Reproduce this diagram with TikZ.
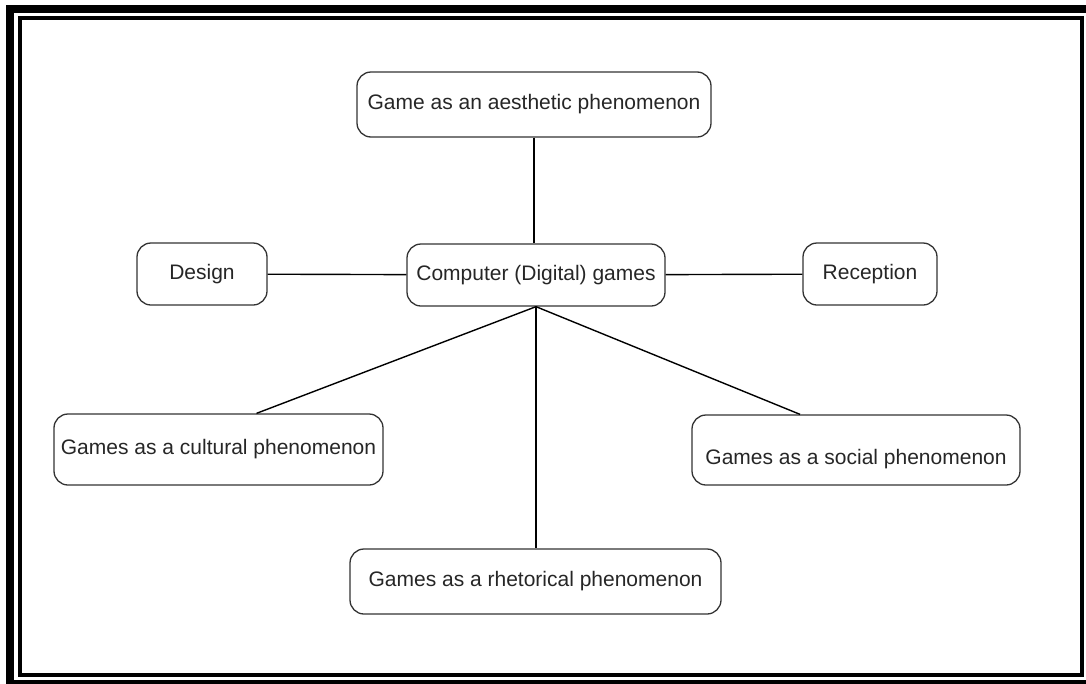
\documentclass[tikz,border=0pt]{standalone}
\usepackage{fontspec}
\setmainfont{Liberation Sans}
\colorlet{boxLine}{black!80}
\colorlet{boxText}{black!85}

\begin{document}
\begin{tikzpicture}[x=1pt, y=-1pt,
	topic/.style={draw=boxLine, line width=1.3pt, rounded corners=14pt, text=boxText,
		font=\fontsize{21}{25}\selectfont, inner sep=0pt, minimum height=63pt},
	link/.style={draw=black, line width=1.4pt}]
		\useasboundingbox (0, 0) rectangle (1086, 683);
		%%%%%%%%%%%%%
		\draw [line width=8pt] (10, 9) rectangle (1090, 684);
		\draw [line width=4pt] (20, 18) rectangle (1082, 675);
		%%%%%%%%%%%%%
		\node [topic, minimum width=354pt, minimum height=65pt] (aes) at (534, 104.5) {Game as an aesthetic phenomenon};
		\node [topic, minimum width=258pt, minimum height=62pt] (comp) at (536, 275) {Computer (Digital) games};
		\node [topic, minimum width=130pt, minimum height=62pt] (des) at (202, 274) {Design};
		\node [topic, minimum width=134pt, minimum height=62pt] (rec) at (870, 274) {Reception};
		\node [topic, minimum width=329pt, minimum height=71pt] (cult) at (218.5, 449.5) {Games as a cultural phenomenon};
		\node [topic, minimum width=328pt, minimum height=70pt, text height=33pt] (soc) at (856, 450) {Games as a social phenomenon};
		\node [topic, minimum width=371pt, minimum height=65pt] (rhet) at (535.5, 581.5) {Games as a rhetorical phenomenon};
		%%%%%%%%%%%%%
		\draw [link] (aes) to (aes |- comp.north);
		\draw [link] (des) to (comp); \draw [link] (comp) to (rec);
		\draw [link] (comp.south) to ([xshift=38pt]cult.north);
		\draw [link] (comp.south) to ([xshift=-56pt]soc.north);
		\draw [link] (comp.south) to (comp.south |- rhet.north);
\end{tikzpicture}
\end{document}
